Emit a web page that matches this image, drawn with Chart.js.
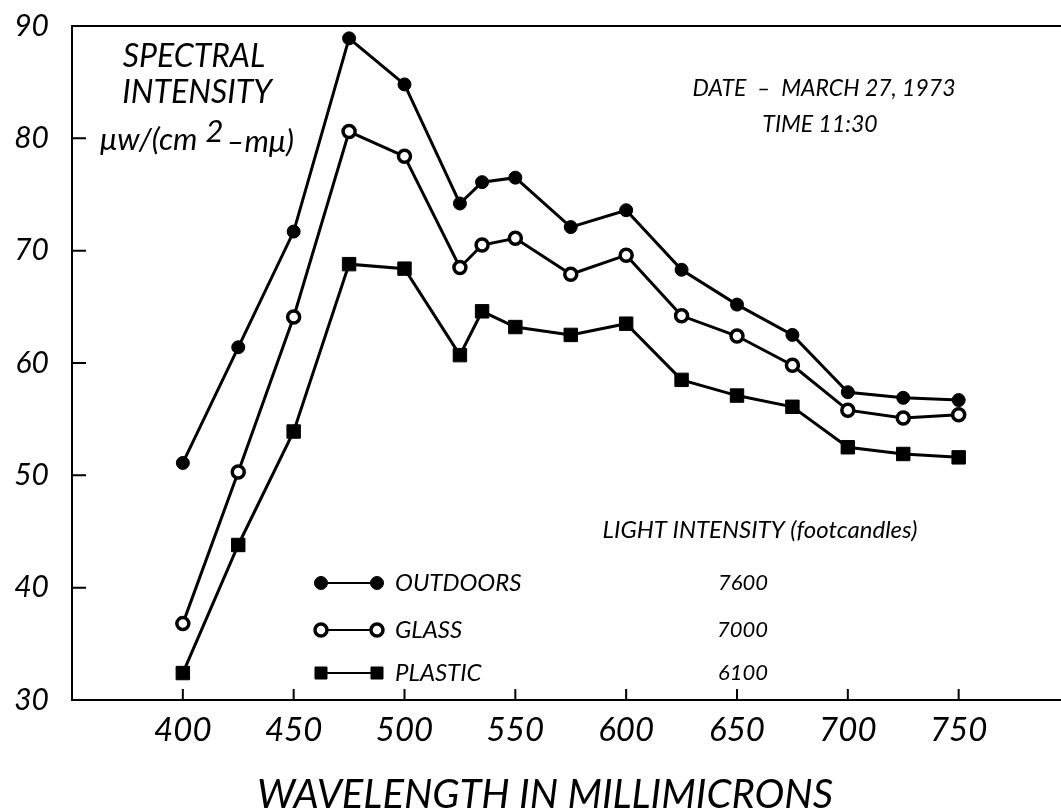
<!DOCTYPE html>
<html>
<head>
<meta charset="utf-8">
<script src="https://cdn.jsdelivr.net/npm/chart.js@4.4.0/dist/chart.umd.min.js"></script>
<style>
  html, body { margin: 0; padding: 0; background: #fff; overflow: hidden; }
  #wrap { width: 1080px; height: 812px; }
</style>
</head>
<body>
<div id="wrap"><canvas id="chart" width="1080" height="812"></canvas></div>
<script>
// wavelengths in millimicrons
const wavelengths = [400, 425, 450, 475, 500, 525, 535, 550, 575, 600, 625, 650, 675, 700, 725, 750];
const outdoors = [51.1, 61.4, 71.7, 88.9, 84.8, 74.2, 76.1, 76.5, 72.1, 73.6, 68.3, 65.2, 62.5, 57.4, 56.9, 56.7];
const glass    = [36.8, 50.3, 64.1, 80.6, 78.4, 68.5, 70.5, 71.1, 67.9, 69.6, 64.2, 62.4, 59.8, 55.8, 55.1, 55.4];
const plastic  = [32.4, 43.8, 53.9, 68.8, 68.4, 60.7, 64.6, 63.2, 62.5, 63.5, 58.5, 57.1, 56.1, 52.5, 51.9, 51.6];
const seriesNames = ['OUTDOORS', 'GLASS', 'PLASTIC'];
const footcandles = ['7600', '7000', '6100'];
const xTicks = [400, 450, 500, 550, 600, 650, 700, 750];
const yTicks = [30, 40, 50, 60, 70, 80, 90];

const FONT = 'Lato';
const toPoints = ys => wavelengths.map((x, i) => ({ x: x, y: ys[i] }));

// inward tick marks, notes, legend and axis title
const decor = {
  id: 'decor',
  afterDraw(chart) {
    const ctx = chart.ctx;
    const xs = chart.scales.x, ys = chart.scales.y;
    const area = chart.chartArea;
    ctx.save();
    ctx.strokeStyle = '#000';
    ctx.lineWidth = 2;
    ctx.beginPath();
    yTicks.slice(1, -1).forEach(v => {
      const py = ys.getPixelForValue(v);
      ctx.moveTo(area.left, py);
      ctx.lineTo(area.left + 14, py);
    });
    xTicks.forEach(v => {
      const px = xs.getPixelForValue(v);
      ctx.moveTo(px, area.bottom);
      ctx.lineTo(px, area.bottom - 11);
    });
    ctx.stroke();

    ctx.fillStyle = '#000';
    ctx.textBaseline = 'middle';
    ctx.textAlign = 'center';
    ctx.font = 'italic 32px ' + FONT;
    ctx.fillText('SPECTRAL', 194, 57);
    ctx.fillText('INTENSITY', 197, 93);

    // unit line with raised 2
    ctx.textAlign = 'left';
    ctx.font = 'italic 31px ' + FONT;
    let ux = 100;
    const uy = 140;
    ctx.fillText('\u03BCw/(cm', ux, uy);
    ux += ctx.measureText('\u03BCw/(cm').width + 8;
    ctx.fillText('2', ux, uy - 8);
    ux += ctx.measureText('2').width + 3;
    ctx.fillText('\u2013m\u03BC)', ux, uy + 2);

    ctx.textAlign = 'center';
    ctx.font = 'italic 23px ' + FONT;
    ctx.fillText('DATE  \u2013  MARCH 27, 1973', 824, 89);
    ctx.fillText('TIME 11:30', 820, 125);
    ctx.font = 'italic 24px ' + FONT;
    ctx.fillText('LIGHT INTENSITY (footcandles)', 760, 530);

    // legend
    const rows = [583, 630, 673];
    chart.data.datasets.forEach((ds, i) => {
      const y = rows[i];
      ctx.strokeStyle = '#000';
      ctx.lineWidth = 2;
      ctx.beginPath();
      ctx.moveTo(321, y);
      ctx.lineTo(377, y);
      ctx.stroke();
      const opts = {
        pointStyle: ds.pointStyle,
        radius: ds.pointStyle === 'rect' ? 8.5 : ds.pointRadius,
        rotation: 0,
        borderWidth: ds.pointBorderWidth
      };
      [321, 377].forEach(px => {
        ctx.fillStyle = ds.pointBackgroundColor;
        ctx.strokeStyle = '#000';
        ctx.lineWidth = ds.pointBorderWidth;
        Chart.helpers.drawPoint(ctx, opts, px, y);
      });
      ctx.fillStyle = '#000';
      ctx.font = 'italic 24px ' + FONT;
      ctx.textAlign = 'left';
      ctx.fillText(seriesNames[i], 395, y);
      ctx.font = 'italic 22px ' + FONT;
      ctx.textAlign = 'right';
      ctx.fillText(footcandles[i], 768, y);
    });

    ctx.textAlign = 'center';
    ctx.font = 'italic 40px ' + FONT;
    ctx.fillText('WAVELENGTH IN MILLIMICRONS', 545, 795);
    ctx.restore();
  }
};

const ctx = document.getElementById('chart').getContext('2d');
const chart = new Chart(ctx, {
  type: 'line',
  data: {
    datasets: [
      {
        label: seriesNames[0],
        data: toPoints(outdoors),
        borderColor: '#000',
        borderWidth: 3,
        pointStyle: 'circle',
        pointRadius: 6.5,
        pointBackgroundColor: '#000',
        pointBorderColor: '#000',
        pointBorderWidth: 1
      },
      {
        label: seriesNames[1],
        data: toPoints(glass),
        borderColor: '#000',
        borderWidth: 3,
        pointStyle: 'circle',
        pointRadius: 6,
        pointBackgroundColor: '#fff',
        pointBorderColor: '#000',
        pointBorderWidth: 3.5
      },
      {
        label: seriesNames[2],
        data: toPoints(plastic),
        borderColor: '#000',
        borderWidth: 3,
        pointStyle: 'rect',
        pointRadius: 9.5,
        pointBackgroundColor: '#000',
        pointBorderColor: '#000',
        pointBorderWidth: 1
      }
    ]
  },
  options: {
    responsive: false,
    animation: false,
    devicePixelRatio: 1,
    layout: { padding: { left: 0, right: 8, top: 0, bottom: 0 } },
    plugins: {
      legend: { display: false },
      tooltip: { enabled: false }
    },
    scales: {
      x: {
        type: 'linear',
        position: 'bottom',
        min: 350,
        max: 800,
        afterBuildTicks: s => { s.ticks = xTicks.map(v => ({ value: v })); },
        afterFit: s => { s.height = 112; s.paddingLeft = 0; s.paddingRight = 0; },
        grid: { display: false },
        border: { display: true, color: '#000', width: 2 },
        ticks: {
          color: '#000',
          padding: 3,
          maxRotation: 0,
          font: { family: FONT, size: 33, style: 'italic' }
        }
      },
      top: {
        type: 'linear',
        position: 'top',
        min: 350,
        max: 800,
        afterFit: s => { s.height = 26; s.paddingLeft = 0; s.paddingRight = 0; },
        grid: { display: false },
        border: { display: true, color: '#000', width: 2 },
        ticks: { display: false }
      },
      y: {
        min: 30,
        max: 90,
        afterBuildTicks: s => { s.ticks = yTicks.map(v => ({ value: v })); },
        afterFit: s => { s.width = 72; s.paddingTop = 0; s.paddingBottom = 0; },
        grid: { display: false },
        border: { display: true, color: '#000', width: 2 },
        ticks: {
          color: '#000',
          padding: 15,
          font: { family: FONT, size: 30, style: 'italic' }
        }
      }
    }
  },
  plugins: [decor]
});
</script>
</body>
</html>
